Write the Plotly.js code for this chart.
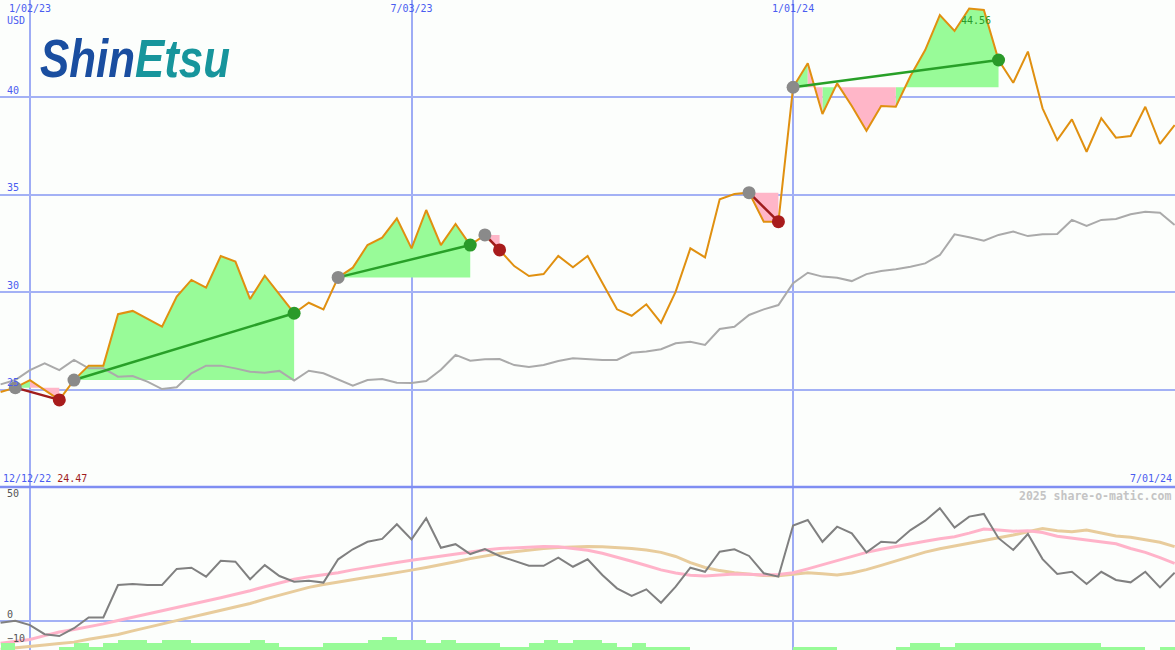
<!DOCTYPE html>
<html><head><meta charset="utf-8">
<script src="https://cdn.plot.ly/plotly-3.0.1.min.js"></script>
<style>html,body{margin:0;padding:0;background:#fcfefc;}#chart{width:1175px;height:650px;}</style>
</head><body><div id="chart"></div>
<script>
// ---- data (weekly, starting Monday 12/19/22) ----
const startWeek = '2022-12-19';
const price = [24.88, 25.10, 25.49, 25.00, 24.47, 25.49, 26.23, 26.23, 28.87, 29.04,
 28.62, 28.23, 29.77, 30.63, 30.23, 31.86, 31.57, 29.65, 30.85, 29.86,
 28.92, 29.46, 29.12, 30.76, 31.26, 32.42, 32.80, 33.79, 32.25, 34.22,
 32.42, 33.50, 32.42, 32.94, 32.17, 31.34, 30.83, 30.93, 31.86, 31.28,
 31.86, 30.49, 29.12, 28.79, 29.38, 28.43, 30.03, 32.25, 31.79, 34.77,
 35.04, 35.11, 33.62, 33.62, 40.52, 41.75, 39.15, 40.72, 39.56, 38.29,
 39.56, 39.52, 41.10, 42.43, 44.23, 43.41, 44.56, 44.49, 41.92, 40.75,
 42.35, 39.44, 37.81, 38.87, 37.21, 38.93, 37.93, 38.02, 39.52, 37.61,
 38.58];
const benchmark = [25.27, 25.49, 26.00, 26.35, 26.00, 26.52, 26.09, 26.09, 25.66, 25.70,
 25.41, 25.03, 25.12, 25.84, 26.23, 26.23, 26.09, 25.92, 25.87, 25.96,
 25.46, 25.97, 25.84, 25.53, 25.20, 25.49, 25.54, 25.35, 25.34, 25.44,
 26.02, 26.78, 26.48, 26.56, 26.57, 26.26, 26.16, 26.26, 26.47, 26.61,
 26.56, 26.52, 26.52, 26.89, 26.95, 27.07, 27.38, 27.46, 27.29, 28.11,
 28.23, 28.83, 29.12, 29.34, 30.46, 31.00, 30.80, 30.74, 30.57, 30.93,
 31.09, 31.18, 31.31, 31.48, 31.91, 32.97, 32.82, 32.64, 32.94, 33.11,
 32.88, 32.97, 32.99, 33.71, 33.40, 33.71, 33.76, 34.00, 34.13, 34.08,
 33.45];
const momentum = [-0.7, 0.1, -1.7, -5.5, -6.25, -3.0, 1.5, 1.5, 15.0, 15.4,
 15.0, 15.0, 21.7, 22.2, 18.5, 25.1, 24.7, 17.4, 23.3, 18.75,
 16.4, 16.8, 16.0, 25.7, 29.9, 33.0, 34.2, 40.3, 34.0, 42.8,
 30.5, 32.0, 27.9, 30.0, 27.1, 25.0, 23.0, 23.0, 26.4, 22.6,
 25.7, 19.2, 13.6, 10.5, 13.2, 7.6, 14.3, 22.2, 20.5, 28.9,
 29.9, 27.1, 19.9, 18.5, 39.8, 42.1, 33.0, 39.3, 36.5, 28.6,
 33.0, 32.6, 37.9, 41.8, 47.0, 38.9, 43.5, 44.6, 34.5, 29.6,
 36.25, 25.8, 19.6, 20.5, 15.4, 20.5, 17.1, 16.1, 20.5, 14.0,
 20.1];
const maFast = [-9.3, -8.5, -7.7, -6.1, -4.6, -3.5, -2.5, -1.2, 0.2, 1.5,
 2.9, 4.2, 5.6, 7.0, 8.3, 9.7, 11.0, 12.6, 14.3, 15.9,
 17.4, 18.4, 19.1, 20.1, 21.3, 22.4, 23.4, 24.4, 25.3, 26.2,
 27.1, 27.9, 28.8, 29.6, 30.2, 30.5, 30.8, 31.0, 30.9, 30.3,
 29.5, 28.2, 26.7, 24.9, 23.1, 21.3, 20.0, 19.1, 18.8, 19.2,
 19.6, 19.5, 19.2, 19.4, 20.1, 21.7, 23.5, 25.1, 27.0, 28.6,
 29.9, 30.9, 31.9, 33.2, 34.3, 35.1, 36.6, 38.3, 37.9, 37.4,
 37.6, 36.9, 35.3, 34.6, 33.9, 33.2, 32.2, 30.2, 28.6, 26.4,
 24.0];
const maSlow = [-11.8, -11.3, -10.7, -10.0, -9.4, -8.8, -7.6, -6.6, -5.6, -4.1,
 -2.6, -1.2, 0.3, 1.6, 3.0, 4.4, 5.7, 7.3, 9.1, 10.8,
 12.4, 14.0, 15.2, 16.3, 17.3, 18.2, 19.2, 20.1, 21.2, 22.3,
 23.4, 24.7, 26.0, 27.1, 28.1, 28.9, 29.6, 30.2, 30.6, 30.9,
 31.0, 30.9, 30.6, 30.2, 29.6, 28.6, 26.9, 24.3, 22.3, 21.0,
 20.1, 19.6, 19.0, 18.9, 19.6, 20.1, 19.7, 19.2, 20.0, 21.4,
 23.2, 25.1, 27.0, 28.7, 30.1, 31.2, 32.3, 33.6, 34.5, 35.8,
 37.2, 38.5, 37.6, 37.2, 37.9, 36.8, 35.4, 34.9, 33.75, 32.8,
 31.0];
const volLevel = [2, 0, 0, 0, 1, 2, 1, 2, 3, 3,
 2, 3, 3, 2, 2, 2, 2, 3, 2, 1,
 1, 1, 2, 2, 2, 3, 4, 3, 3, 2,
 3, 2, 2, 2, 1, 1, 2, 3, 2, 3,
 3, 2, 1, 2, 1, 1, 1, 0, 0, 0,
 0, 0, 0, 0, 1, 1, 1, 0, 0, 0,
 0, 1, 2, 2, 1, 2, 2, 2, 2, 2,
 2, 2, 2, 2, 2, 1, 1, 1, 0, 1,
 1];
const trades = [[1, 4], [5, 20], [23, 32], [33, 34], [51, 53], [54, 68]];
const xTickVals = ['2023-01-02', '2023-07-03', '2024-01-01'];
const xTickText = ['1/02/23', '7/03/23', '1/01/24'];
const priceTicks = [25, 30, 35, 40];
const oscTicks = [-10, 0, 50];
const startLabel = '12/12/22';
const endLabel = '7/01/24';

// ---- build ----
const DAY = 86400000;
const t0 = Date.parse(startWeek + 'T00:00:00Z');
const iso = t => new Date(t).toISOString().slice(0, 19).replace('T', ' ');
const dates = price.map((_, i) => iso(t0 + i * 7 * DAY));
const barX = volLevel.map((_, i) => iso(t0 + i * 7 * DAY + 3.5 * DAY));

const MONO = 'DejaVu Sans Mono';
const BLUE = '#4a5cf0';
const GRID = '#a3b1f5';

const gX = [], gY = [], pX = [], pY = [];
const winX = [], winY = [], lossX = [], lossY = [];
const sX = [], sY = [], ewX = [], ewY = [], elX = [], elY = [];
trades.forEach(([a, b]) => {
  const L = price[a];
  for (let k = a; k < b; k++) {
    const up = price[k + 1] >= L;
    const X = up ? gX : pX, Y = up ? gY : pY;
    X.push(dates[k], dates[k], dates[k + 1], dates[k + 1], null);
    Y.push(L, price[k], price[k + 1], L, null);
  }
  const win = price[b] >= L;
  const TX = win ? winX : lossX, TY = win ? winY : lossY;
  TX.push(dates[a], dates[b], null); TY.push(L, price[b], null);
  sX.push(dates[a]); sY.push(L);
  if (win) { ewX.push(dates[b]); ewY.push(price[b]); } else { elX.push(dates[b]); elY.push(price[b]); }
});

const traces = [
  {x: gX, y: gY, mode: 'lines', fill: 'toself', fillcolor: '#98fb98', line: {width: 0}, hoverinfo: 'skip'},
  {x: pX, y: pY, mode: 'lines', fill: 'toself', fillcolor: '#ffb6c8', line: {width: 0}, hoverinfo: 'skip'},
  {x: dates, y: benchmark, mode: 'lines', line: {color: '#aaaaaa', width: 2}},
  {x: dates, y: price, mode: 'lines', line: {color: '#e09010', width: 2}},
  {x: winX, y: winY, mode: 'lines', line: {color: '#28a028', width: 2.5}},
  {x: lossX, y: lossY, mode: 'lines', line: {color: '#a01c1c', width: 2.5}},
  {x: sX, y: sY, mode: 'markers', marker: {color: '#8a8a8a', size: 13}},
  {x: ewX, y: ewY, mode: 'markers', marker: {color: '#2a9a2a', size: 13}},
  {x: elX, y: elY, mode: 'markers', marker: {color: '#a81c1c', size: 13}},
  {x: barX, y: volLevel, type: 'bar', yaxis: 'y3', width: 7 * DAY, marker: {color: '#98fb98', line: {width: 0}}},
  {x: dates, y: maSlow, yaxis: 'y2', mode: 'lines', line: {color: '#e8cc9c', width: 3}},
  {x: dates, y: maFast, yaxis: 'y2', mode: 'lines', line: {color: '#ffb3c9', width: 3}},
  {x: dates, y: momentum, yaxis: 'y2', mode: 'lines', line: {color: '#808080', width: 2}}
];

const split = 163 / 650;
const maxI = price.indexOf(Math.max(...price));
const minV = Math.min(...price);

const layout = {
  width: 1175, height: 650,
  margin: {l: 0, r: 0, t: 0, b: 0},
  paper_bgcolor: '#fcfefc', plot_bgcolor: '#fcfefc',
  showlegend: false, bargap: 0,
  xaxis: {type: 'date', range: ['2022-12-18 17:00', '2024-07-01 04:00'], anchor: 'y', side: 'top',
    tickvals: xTickVals, ticktext: xTickText, ticklabelposition: 'inside', ticklabelstandoff: 2, ticks: '',
    showgrid: true, gridcolor: '#9eacf5', gridwidth: 2, zeroline: false, showline: false,
    tickfont: {family: MONO, size: 10, color: BLUE}},
  yaxis: {domain: [split, 1], range: [20, 45], tickvals: priceTicks, ticklabelposition: 'inside',
    ticklabelshift: -7, ticklabelstandoff: 4, ticks: '', showgrid: true, gridcolor: GRID, gridwidth: 2,
    zeroline: false, showline: false, tickfont: {family: MONO, size: 10, color: BLUE}},
  yaxis2: {domain: [0, split], range: [-12.08, 55.83], anchor: 'x', tickvals: oscTicks,
    ticklabelposition: 'inside', ticklabelshift: -7, ticklabelstandoff: 4, ticks: '', showgrid: false,
    zeroline: true, zerolinecolor: GRID, zerolinewidth: 2, showline: false,
    tickfont: {family: MONO, size: 10, color: '#555555'}},
  yaxis3: {overlaying: 'y2', range: [0, 49.4], visible: false, anchor: 'x'},
  shapes: [
    {type: 'line', xref: 'paper', yref: 'paper', x0: 0, x1: 1, y0: split, y1: split,
     line: {color: '#7f8ef2', width: 2.5}}
  ],
  annotations: [
    {xref: 'paper', yref: 'paper', x: 0.004, y: 1 - 20 / 650, xanchor: 'left', yanchor: 'middle',
     text: 'USD', showarrow: false, font: {family: MONO, size: 10, color: BLUE}},
    {xref: 'paper', yref: 'paper', x: 0.001, y: 1 - 478 / 650, xanchor: 'left', yanchor: 'middle',
     text: startLabel + ' <span style="color:#a01c1c">' + minV.toFixed(2) + '</span>', showarrow: false,
     font: {family: MONO, size: 10, color: BLUE}},
    {xref: 'paper', yref: 'paper', x: 0.999, y: 1 - 478 / 650, xanchor: 'right', yanchor: 'middle',
     text: endLabel, showarrow: false, font: {family: MONO, size: 10, color: BLUE}},
    {xref: 'x', yref: 'y', x: dates[maxI], y: price[maxI], xanchor: 'left', yanchor: 'top',
     xshift: -10, yshift: -4, text: price[maxI].toFixed(2), showarrow: false,
     font: {family: MONO, size: 10, color: '#2a9a2a'}},
    {xref: 'paper', yref: 'paper', x: 0.998, y: 1 - 496 / 650, xanchor: 'right', yanchor: 'middle',
     text: '2025 share-o-matic.com', showarrow: false,
     font: {family: MONO, size: 11.5, color: '#c4c4c4', weight: 'bold'}},
    {xref: 'paper', yref: 'paper', x: 38 / 1175, y: 1 - 58 / 650, xanchor: 'left', yanchor: 'middle',
     text: '<span style="color:#1a4ea0">Shin</span><span style="color:#17959c">Etsu</span>',
     showarrow: false,
     font: {family: 'Liberation Sans', size: 54, weight: 'bold', style: 'italic', color: '#1a4ea0'}}
  ]
};

Plotly.newPlot('chart', traces, layout, {staticPlot: true, displayModeBar: false}).then(gd => {
  // condense the logo text horizontally about its left edge (no narrow font installed)
  gd.querySelectorAll('text.annotation-text').forEach(el => {
    if (el.textContent === 'ShinEtsu') {
      const bb = el.getBBox();
      const s = 190 / bb.width;
      el.setAttribute('transform', 'translate(' + (bb.x * (1 - s)) + ',0) scale(' + s + ',1)');
    }
  });
});
</script>
</body></html>
